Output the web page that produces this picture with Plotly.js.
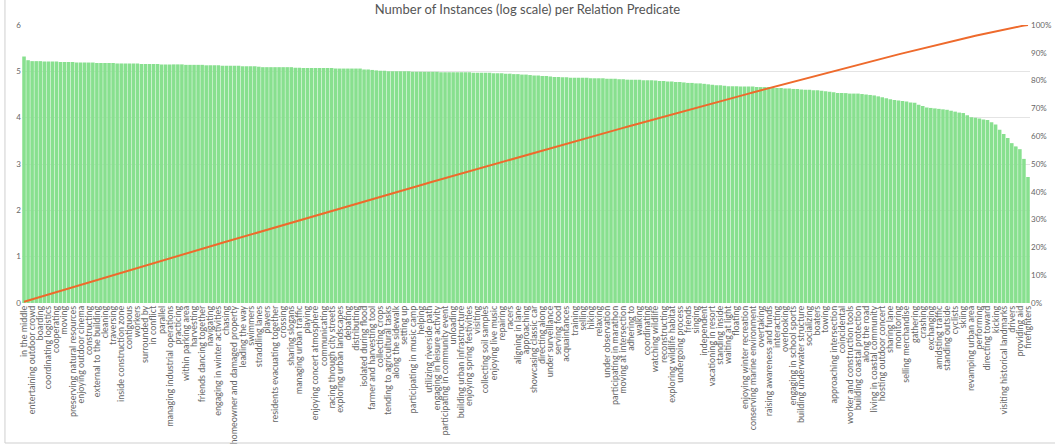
<!DOCTYPE html>
<html>
<head>
<meta charset="utf-8">
<script src="https://cdn.plot.ly/plotly-3.0.1.min.js"></script>
<style>html,body{margin:0;padding:0;background:#fff;}#chart{width:1055px;height:448px;}</style>
</head>
<body>
<div id="chart"></div>
<script>
// Labelled predicates (every second bar carries a visible label)
const tickLabels = [
"in the middle","entertaining outdoor crowd","boarding","coordinating logistics","cooperating","moving",
"preserving natural resources","enjoying outdoor cinema","constructing","external to the building","cleaning",
"traversing","inside construction zone","contiguous","workers","surrounded by","in conflict","parallel",
"managing industrial operations","practicing","within parking area","harvesting","friends dancing together",
"navigating","engaging in winter activities","chasing","homeowner and damaged property","leading the way",
"swimmers","straddling lanes","players","residents evacuating together","crossing","sharing slogans",
"managing urban traffic","playing","enjoying concert atmosphere","communicating","racing through city streets",
"exploring urban landscapes","debating","distributing","isolated during flood","farmer and harvesting tool",
"collecting crops","tending to agricultural tasks","along the sidewalk","setting up","participating in music camp",
"helping","utilizing riverside path","engaging in leisure activity","participating in community event","unloading",
"building urban infrastructure","enjoying spring festivities","visiting","collecting soil samples","enjoying live music",
"repairing","racers","aligning in lane","approaching","showcasing classic car","directing along","under surveillance",
"serving food","acquaintances","training","selling","hiking","relaxing","under observation","participating in marathon",
"moving at intersection","adhering to","walking","coordinating","watching wildlife","reconstructing",
"exploring wildlife habitat","undergoing process","friends","singing","independent","vacationing in resort",
"standing inside","waiting at light","floating","enjoying winter recreation","conserving marine environment",
"overtaking","raising awareness and funds","interacting","overlooking","engaging in school sports",
"building underwater structure","socializing","boaters","towing","approaching intersection","coincidental",
"worker and construction tools","building coastal protection","along the road","living in coastal community",
"hosting outdoor concert","sharing lane","monitoring","selling merchandise","gathering","crashing","exchanging",
"amidsting traffic","standing outside","cyclists","skiing","revamping urban area","performing","directing toward",
"kicking","visiting historical landmarks","drivers","providing aid","firefighters"
];

// log10(number of instances) per predicate, sorted descending
const logCounts = [
5.32,5.24,5.22,5.22,5.22,5.21,5.21,5.21,5.21,5.20,
5.20,5.20,5.20,5.19,5.19,5.19,5.19,5.19,5.18,5.18,
5.18,5.18,5.18,5.17,5.17,5.17,5.17,5.17,5.17,5.16,
5.16,5.16,5.16,5.16,5.15,5.15,5.15,5.15,5.15,5.15,
5.14,5.14,5.14,5.14,5.14,5.13,5.13,5.13,5.13,5.12,
5.12,5.12,5.12,5.12,5.11,5.11,5.11,5.11,5.10,5.09,
5.09,5.09,5.09,5.09,5.09,5.09,5.09,5.08,5.08,5.07,
5.07,5.07,5.07,5.07,5.07,5.07,5.07,5.06,5.06,5.06,
5.06,5.06,5.06,5.06,5.04,5.04,5.03,5.02,5.01,5.01,
5.00,5.00,5.00,5.00,5.00,5.00,4.99,4.99,4.99,4.99,
4.99,4.99,4.99,4.98,4.98,4.98,4.98,4.98,4.98,4.98,
4.98,4.97,4.97,4.97,4.97,4.97,4.96,4.96,4.96,4.95,
4.95,4.94,4.94,4.93,4.93,4.92,4.91,4.91,4.90,4.90,
4.89,4.88,4.88,4.87,4.87,4.86,4.86,4.86,4.86,4.86,
4.85,4.85,4.85,4.85,4.84,4.84,4.84,4.83,4.83,4.82,
4.82,4.82,4.82,4.81,4.81,4.81,4.80,4.79,4.79,4.78,
4.78,4.77,4.77,4.76,4.75,4.75,4.74,4.74,4.73,4.72,
4.71,4.70,4.70,4.69,4.68,4.68,4.68,4.67,4.67,4.67,
4.67,4.66,4.66,4.66,4.66,4.65,4.64,4.64,4.63,4.63,
4.62,4.62,4.61,4.60,4.60,4.59,4.59,4.58,4.57,4.56,
4.55,4.53,4.53,4.53,4.52,4.52,4.52,4.51,4.50,4.49,
4.48,4.46,4.44,4.42,4.40,4.38,4.37,4.36,4.35,4.33,
4.32,4.28,4.25,4.22,4.21,4.20,4.19,4.18,4.17,4.15,
4.13,4.11,4.10,4.05,4.01,4.00,3.98,3.96,3.95,3.90,
3.85,3.74,3.65,3.56,3.45,3.38,3.32,3.11,2.72
];

const leftTicks = [0,1,2,3,4,5,6];
const rightTicks = [0,0.1,0.2,0.3,0.4,0.5,0.6,0.7,0.8,0.9,1.0];

const idx = logCounts.map((_, i) => i);
const tickIdx = tickLabels.map((_, k) => k * 2);
const total = logCounts.reduce((a, b) => a + b, 0);
let run = 0;
const cumShare = logCounts.map(v => { run += v; return run / total; });

const gray = '#666';
const font = 'Lato, "Open Sans", "DejaVu Sans", sans-serif';

const traces = [
  {type: 'bar', x: idx, y: logCounts, marker: {color: '#88e08f', line: {width: 0}},
   hoverinfo: 'y', showlegend: false},
  {type: 'scatter', mode: 'lines', x: idx, y: cumShare, yaxis: 'y2',
   line: {color: '#ee6a2c', width: 2}, showlegend: false}
];

const layout = {
  width: 1055, height: 448,
  margin: {l: 22, r: 25, t: 25, b: 145, pad: 0},
  paper_bgcolor: '#fff', plot_bgcolor: '#fff',
  font: {family: font, color: gray, size: 8},
  title: {text: 'Number of Instances (log scale) per Relation Predicate',
          x: 0.5, xanchor: 'center', y: 0.978, yanchor: 'middle',
          font: {family: font, size: 13, color: '#555'}},
  bargap: 0.12,
  xaxis: {range: [-0.5, logCounts.length - 0.5], tickmode: 'array', tickvals: tickIdx, ticktext: tickLabels,
          tickangle: -90, tickfont: {size: 9, color: gray}, showgrid: false, zeroline: false,
          showline: false, ticks: ''},
  yaxis: {range: [0, 6], tickmode: 'array', tickvals: leftTicks, showgrid: true, gridcolor: '#e4e4e4',
          gridwidth: 1, zeroline: false, showline: false, tickfont: {size: 8, color: gray}, ticks: ''},
  yaxis2: {range: [0, 1], overlaying: 'y', side: 'right', tickmode: 'array', tickvals: rightTicks,
           tickformat: '.0%', showgrid: false, zeroline: false, showline: false,
           tickfont: {size: 8, color: gray}, ticks: ''},
  shapes: [
    {type: 'line', xref: 'paper', yref: 'paper', x0: -0.0169, x1: -0.0169, y0: -0.5036, y1: 1.1,
     line: {color: '#cfcfcf', width: 1}},
    {type: 'line', xref: 'paper', yref: 'paper', x0: -0.0169, x1: 1.03, y0: -0.5036, y1: -0.5036,
     line: {color: '#cfcfcf', width: 1}}
  ]
};

Plotly.newPlot('chart', traces, layout, {displayModeBar: false, responsive: false});
</script>
</body>
</html>
